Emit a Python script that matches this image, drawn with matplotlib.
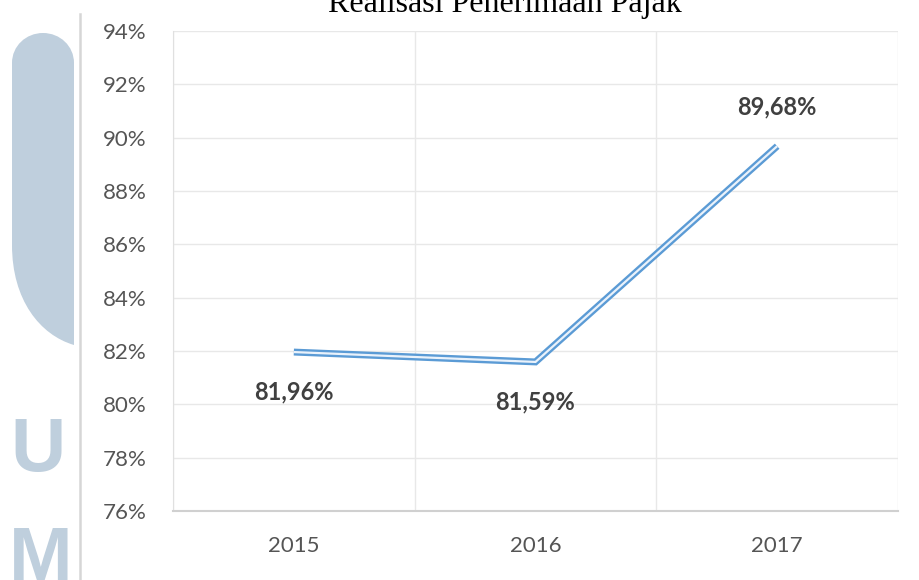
import matplotlib.pyplot as plt
import matplotlib.patches as patches
from matplotlib.path import Path
import numpy as np

# data
years = ['2015', '2016', '2017']
realisasi = [81.96, 81.59, 89.68]
label_text = ['81,96%', '81,59%', '89,68%']
label_offset = [-29, -29, 28]  # points, below / above the point
y_ticks = [76, 78, 80, 82, 84, 86, 88, 90, 92, 94]

W, H = 920, 580
fig = plt.figure(figsize=(W / 100, H / 100), dpi=100)
fig.patch.set_facecolor('white')

# watermark on the left (page background)
wm = '#bfcfdd'
bg = fig.add_axes([0, 0, 1, 1], zorder=0)
bg.set_xlim(0, W)
bg.set_ylim(H, 0)
bg.axis('off')
verts = [(12, 245), (12, 63), (12, 46), (26, 33), (43, 33), (60, 33), (74, 46), (74, 63),
         (74, 345), (40, 335), (12, 300), (12, 245)]
codes = [Path.MOVETO, Path.LINETO, Path.CURVE4, Path.CURVE4, Path.CURVE4,
         Path.CURVE4, Path.CURVE4, Path.CURVE4, Path.LINETO,
         Path.CURVE4, Path.CURVE4, Path.CURVE4]
bg.add_patch(patches.PathPatch(Path(verts, codes), facecolor=wm, edgecolor='none'))
bg.text(38, 452, 'U', fontsize=55, fontweight='bold', color=wm, ha='center', va='center',
        family='Liberation Sans')
bg.text(41, 560, 'M', fontsize=55, fontweight='bold', color=wm, ha='center', va='center',
        family='Liberation Sans')
bg.plot([80, 80], [14, H], color='#d6d6d6', lw=1.8)

# title (cut off at top of image)
fig.text(505 / W, 1 - 12 / H, 'Realisasi Penerimaan Pajak', ha='center', va='baseline',
         fontsize=23, family='Liberation Serif', color='black')

ax = fig.add_axes([173 / W, 1 - 511 / H, (898 - 173) / W, (511 - 31) / H], zorder=1)
ax.set_facecolor('white')
x = np.arange(len(years))

# double (compound) line
ax.plot(x, realisasi, color='#5b9bd5', lw=5, solid_joinstyle='miter', solid_capstyle='butt', zorder=3)
ax.plot(x, realisasi, color='#eaf2fb', lw=1.6, solid_joinstyle='miter', solid_capstyle='butt', zorder=4)

for xi, v, t, off in zip(x, realisasi, label_text, label_offset):
    ax.annotate(t, (xi, v), xytext=(0, off), textcoords='offset points', ha='center',
                va='center', fontsize=17, fontweight='bold', color='#404040', family='Lato')

ax.set_xlim(-0.5, 2.5)
ax.set_ylim(76, 94)
ax.set_yticks(y_ticks)
ax.set_yticklabels([f'{t}%' for t in y_ticks])
ax.set_xticks(x)
ax.set_xticklabels(years)
ax.set_xticks([-0.5, 0.5, 1.5, 2.5], minor=True)

ax.grid(True, axis='y', which='major', color='#e8e8e8', lw=1)
ax.grid(True, axis='x', which='minor', color='#e8e8e8', lw=1)
ax.set_axisbelow(True)
for s in ['top', 'right']:
    ax.spines[s].set_visible(False)
ax.spines['left'].set_color('#e0e0e0')
ax.spines['bottom'].set_color('#d0d0d0')
ax.spines['bottom'].set_linewidth(1.5)
ax.tick_params(axis='both', which='both', length=0, labelsize=16, labelcolor='#555555')
ax.tick_params(axis='y', pad=19)
ax.tick_params(axis='x', pad=18)
for lbl in ax.get_xticklabels() + ax.get_yticklabels():
    lbl.set_family('Lato')

fig.savefig('out.png', dpi=100, facecolor='white')
